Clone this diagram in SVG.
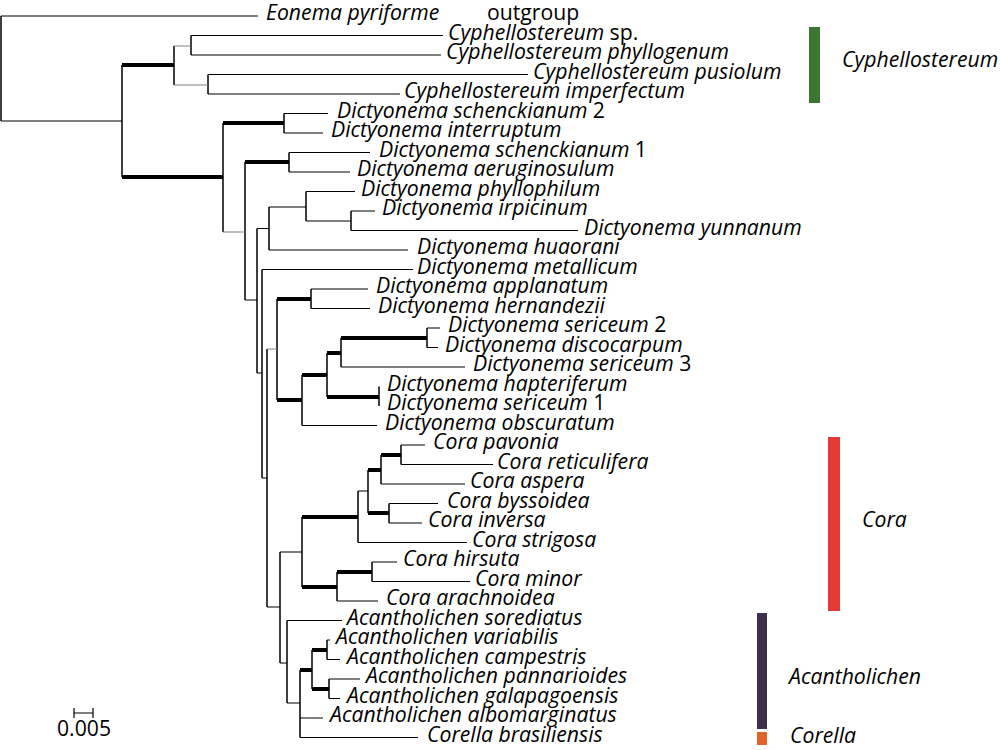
<svg xmlns="http://www.w3.org/2000/svg" width="1000" height="750" viewBox="0 0 1000 750">
<style>
.v{fill:none;stroke:#000;stroke-width:1.5}
.h{fill:none;stroke:#000;stroke-width:1.2}
.g{fill:none;stroke:#808080;stroke-width:1.2}
.t{fill:none;stroke:#000;stroke-width:4}
text{font-family:"Open Sans","DejaVu Sans",sans-serif;font-size:21.2px;font-style:italic;fill:#000}
.n{font-style:normal}
</style>
<rect width="1000" height="750" fill="#fff"/>
<g id="connectors">
<path class="v" d="M1 16V121M122 65V177M174 46V85M191 35.5V55M208 74.5V94M223 123V232M284 113.5V133M245 162V300M289 152.5V172M257 228.5V373M269 207V250M306 191.5V221M351 211V230.5M262 269.5V478M267 349V607M277 299V400M311 289V308.5M302 375V425.5M327 353V397M341 338V367M427 328V347.5M379 386.5V406M280 552V663M302 517V587M358 491V542.5M368 470V513M381 455V484M401 445V464.5M389 503.5V523M337 572V601M372 562V581.5M287 620.5V703M300 670V737.5M312 650V689M327 640V659.5M329 679V698.5"/>
<path class="t" d="M122 65H174M122 177H223M223 123H284M245 162H289M277 299H311M277 400H302M302 375H327M327 353H341M341 338H427M327 397H379M302 517H358M302 587H337M368 470H381M381 455H401M368 513H389M337 572H372M300 670H312M312 650H327M312 689H329"/>
<path class="h" d="M1 121H122M245 300H257M257 228.5H269M269 207H306M306 221H351M257 373H262M262 478H267M267 607H280M280 552H302M358 491H368M280 663H287M287 703H300"/>
<path class="g" d="M174 46H191M174 85H208M223 232H245M267 349H277"/>
<path class="h" d="M1 16H258M191 35.5H443M191 55H441M208 74.5H528M208 94H400M284 113.5H328M284 133H323M289 152.5H370M289 172H350M306 191.5H355M351 211H375M351 230.5H578M269 250H408M262 269.5H413M311 289H368M311 308.5H370M427 328H440M427 347.5H438M341 367H465M302 425.5H377M401 445H425M401 464.5H493M381 484H465M389 503.5H438M389 523H422M358 542.5H467M372 562H397M372 581.5H470M337 601H378M287 620.5H342M327 640H330M327 659.5H340M329 679H360M329 698.5H340M300 718H323M300 737.5H418"/>
<path class="h" d="M74 713H93M74 708V718M93 708V718"/>
</g>
<g id="leaves">
<g id="eonema"><text x="266" y="20">Eonema pyriforme</text><text class="n" x="487" y="20">outgroup</text></g>
<g id="cyph-sp"><text x="448" y="40">Cyphellostereum <tspan class="n">sp.</tspan></text></g>
<g id="cyph-phyllogenum"><text x="446" y="59">Cyphellostereum phyllogenum</text></g>
<g id="cyph-pusiolum"><text x="533" y="79">Cyphellostereum pusiolum</text></g>
<g id="cyph-imperfectum"><text x="404" y="98">Cyphellostereum imperfectum</text></g>
<g id="d-schenck2"><text x="337" y="118">Dictyonema schenckianum <tspan class="n">2</tspan></text></g>
<g id="d-interruptum"><text x="331" y="137">Dictyonema interruptum</text></g>
<g id="d-schenck1"><text x="379" y="157">Dictyonema schenckianum <tspan class="n">1</tspan></text></g>
<g id="d-aeruginosulum"><text x="357" y="176">Dictyonema aeruginosulum</text></g>
<g id="d-phyllophilum"><text x="361" y="196">Dictyonema phyllophilum</text></g>
<g id="d-irpicinum"><text x="382" y="215">Dictyonema irpicinum</text></g>
<g id="d-yunnanum"><text x="584" y="235">Dictyonema yunnanum</text></g>
<g id="d-huaorani"><text x="417" y="254">Dictyonema huaorani</text></g>
<g id="d-metallicum"><text x="417" y="274">Dictyonema metallicum</text></g>
<g id="d-applanatum"><text x="376" y="293">Dictyonema applanatum</text></g>
<g id="d-hernandezii"><text x="378" y="313">Dictyonema hernandezii</text></g>
<g id="d-sericeum2"><text x="448" y="332">Dictyonema sericeum <tspan class="n">2</tspan></text></g>
<g id="d-discocarpum"><text x="445" y="352">Dictyonema discocarpum</text></g>
<g id="d-sericeum3"><text x="473" y="371">Dictyonema sericeum <tspan class="n">3</tspan></text></g>
<g id="d-hapteriferum"><text x="387" y="391">Dictyonema hapteriferum</text></g>
<g id="d-sericeum1"><text x="387" y="410">Dictyonema sericeum <tspan class="n">1</tspan></text></g>
<g id="d-obscuratum"><text x="385" y="430">Dictyonema obscuratum</text></g>
<g id="c-pavonia"><text x="433" y="449">Cora pavonia</text></g>
<g id="c-reticulifera"><text x="497" y="469">Cora reticulifera</text></g>
<g id="c-aspera"><text x="470" y="488">Cora aspera</text></g>
<g id="c-byssoidea"><text x="447" y="508">Cora byssoidea</text></g>
<g id="c-inversa"><text x="428" y="527">Cora inversa</text></g>
<g id="c-strigosa"><text x="472" y="547">Cora strigosa</text></g>
<g id="c-hirsuta"><text x="403" y="566">Cora hirsuta</text></g>
<g id="c-minor"><text x="475" y="586">Cora minor</text></g>
<g id="c-arachnoidea"><text x="386" y="605">Cora arachnoidea</text></g>
<g id="a-sorediatus"><text x="347" y="625">Acantholichen sorediatus</text></g>
<g id="a-variabilis"><text x="336" y="644">Acantholichen variabilis</text></g>
<g id="a-campestris"><text x="347" y="664">Acantholichen campestris</text></g>
<g id="a-pannarioides"><text x="366" y="683">Acantholichen pannarioides</text></g>
<g id="a-galapagoensis"><text x="347" y="703">Acantholichen galapagoensis</text></g>
<g id="a-albomarginatus"><text x="330" y="722">Acantholichen albomarginatus</text></g>
<g id="corella-brasiliensis"><text x="427" y="742">Corella brasiliensis</text></g>
</g>
<g id="scale"><text class="n" x="57" y="736">0.005</text></g>
<g id="clade-cyphellostereum"><rect x="809" y="27" width="11" height="76" fill="#3d7535"/><text x="842" y="67">Cyphellostereum</text></g>
<g id="clade-cora"><rect x="828" y="437" width="12" height="174" fill="#e53a33"/><text x="862" y="527">Cora</text></g>
<g id="clade-acantholichen"><rect x="757" y="613" width="10" height="116" fill="#3e2f4e"/><text x="789" y="684">Acantholichen</text></g>
<g id="clade-corella"><rect x="757" y="732" width="10" height="13" fill="#e0642a"/><text x="790" y="743">Corella</text></g>
</svg>
